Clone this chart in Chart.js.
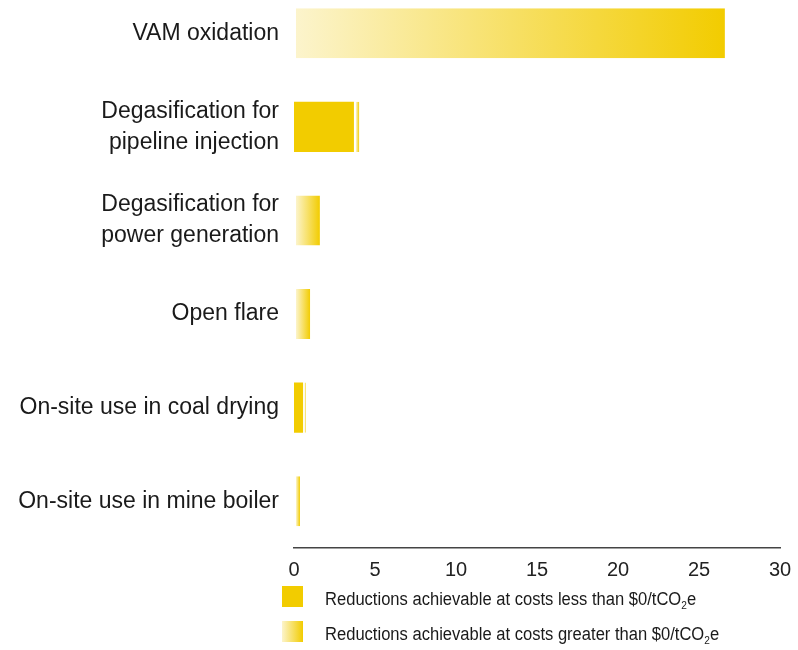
<!DOCTYPE html>
<html>
<head>
<meta charset="utf-8">
<script src="https://cdn.jsdelivr.net/npm/chart.js@4/dist/chart.umd.min.js"></script>
<style>
  html, body { margin: 0; padding: 0; background: #ffffff; overflow: hidden; width: 798px; height: 650px; }
  #wrap { position: absolute; left: 0; top: -44px; width: 798px; height: 630px; }
  #legend { position: absolute; left: 0; top: 0; width: 798px; height: 650px; pointer-events: none; }
  .lg-box { position: absolute; width: 21px; height: 21px; }
  .lg-text { position: absolute; white-space: nowrap; font-family: 'Liberation Sans', Arial, sans-serif;
             font-size: 18px; line-height: 21px; color: #1a1a1a; transform: scaleX(0.92); transform-origin: 0 0; }
  .lg-text sub { font-size: 11px; vertical-align: -4px; line-height: 0; }
</style>
</head>
<body>
<div id="wrap"><canvas id="c"></canvas></div>
<div id="legend"></div>
<script>
const categories = [
  'VAM oxidation',
  ['Degasification for', 'pipeline injection'],
  ['Degasification for', 'power generation'],
  'Open flare',
  'On-site use in coal drying',
  'On-site use in mine boiler'
];
const lessThanZero = [0, 3.7, 0, 0, 0.56, 0];
const greaterThanZero = [26.6, 0.33, 1.6, 1.0, 0.18, 0.37];
const xTicks = [0, 5, 10, 15, 20, 25, 30];
const legendLabels = [
  'Reductions achievable at costs less than $0/tCO<sub>2</sub>e',
  'Reductions achievable at costs greater than $0/tCO<sub>2</sub>e'
];

const GOLD = '#f2cc00';
const LIGHT = '#fcf4cc';

function gradientFill(ctx) {
  const chart = ctx.chart;
  if (!chart.chartArea || ctx.type !== 'data') return GOLD;
  const i = ctx.dataIndex;
  const xs = chart.scales.x;
  const a = xs.getPixelForValue(lessThanZero[i]) + 2;
  const b = xs.getPixelForValue(lessThanZero[i] + greaterThanZero[i]);
  const g = chart.ctx.createLinearGradient(a, 0, Math.max(b, a + 1), 0);
  g.addColorStop(0, LIGHT);
  g.addColorStop(1, GOLD);
  return g;
}

const labelFont = { family: "'Liberation Sans', Arial, sans-serif", size: 23, lineHeight: 1.35 };

const chart = new Chart(document.getElementById('c'), {
  type: 'bar',
  data: {
    labels: categories,
    datasets: [
      {
        label: 'less',
        data: lessThanZero,
        backgroundColor: GOLD,
        borderWidth: 0,
        barPercentage: 1,
        categoryPercentage: 0.535
      },
      {
        label: 'greater',
        data: greaterThanZero,
        backgroundColor: gradientFill,
        borderColor: '#ffffff',
        borderWidth: { left: 2, right: 0, top: 0, bottom: 0 },
        borderSkipped: false,
        barPercentage: 1,
        categoryPercentage: 0.535
      }
    ]
  },
  options: {
    indexAxis: 'y',
    responsive: true,
    maintainAspectRatio: false,
    animation: false,
    layout: { padding: { left: 0, right: 18, top: 0, bottom: 0 } },
    scales: {
      x: {
        stacked: true,
        min: 0,
        max: 30,
        grid: { display: false, drawTicks: false },
        border: { display: true, color: '#444444', width: 1.5 },
        ticks: {
          stepSize: 5,
          padding: 0,
          color: '#222222',
          font: { family: "'Liberation Sans', Arial, sans-serif", size: 20, lineHeight: '44px' },
          callback: (v) => xTicks.includes(v) ? String(v) : ''
        },
        afterFit: (s) => { s.height = 38; }
      },
      y: {
        stacked: true,
        grid: { display: false, drawTicks: false },
        border: { display: false },
        ticks: {
          padding: 15,
          color: '#1a1a1a',
          font: labelFont
        },
        afterFit: (s) => { s.width = 294; }
      }
    },
    plugins: {
      tooltip: { enabled: false },
      legend: { display: false }
    }
  }
});

// HTML legend built from the dataset list
const legendEl = document.getElementById('legend');
const legendFills = [GOLD, 'linear-gradient(to right, ' + LIGHT + ', ' + GOLD + ')'];
const legendTops = [586, 621];
legendLabels.forEach((t, i) => {
  const box = document.createElement('div');
  box.className = 'lg-box';
  box.style.left = '282px';
  box.style.top = legendTops[i] + 'px';
  box.style.background = legendFills[i];
  legendEl.appendChild(box);
  const txt = document.createElement('div');
  txt.className = 'lg-text';
  txt.style.left = '325px';
  txt.style.top = (legendTops[i] + 3) + 'px';
  txt.innerHTML = t;
  legendEl.appendChild(txt);
});
</script>
</body>
</html>
